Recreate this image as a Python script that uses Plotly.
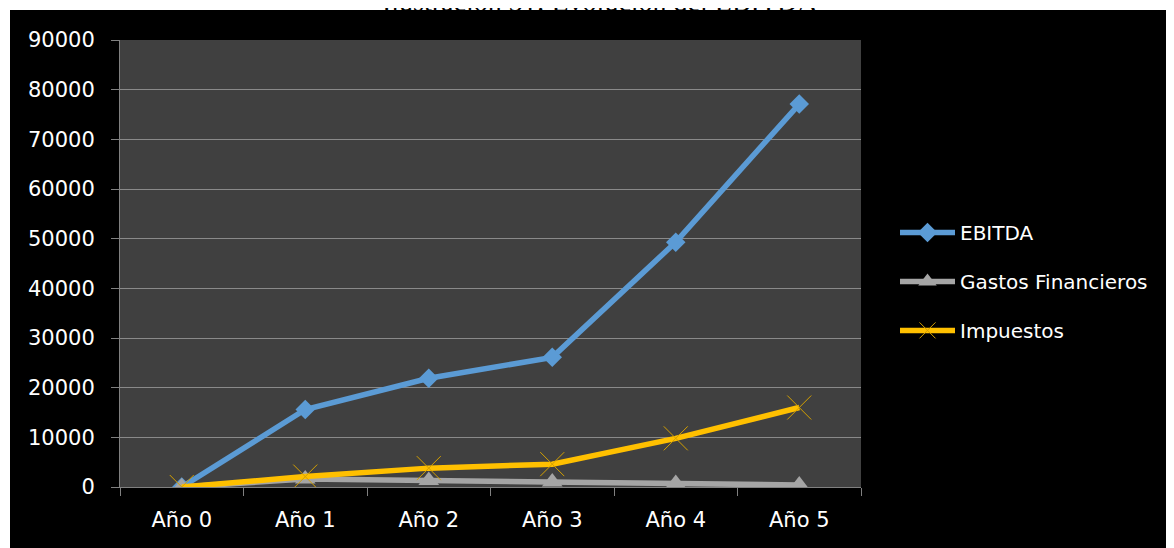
import plotly.graph_objects as go

# data
years = ["Año 0", "Año 1", "Año 2", "Año 3", "Año 4", "Año 5"]
ebitda = [0, 15600, 21900, 26100, 49300, 77100]
gastos_financieros = [0, 1600, 1300, 1000, 700, 400]
impuestos = [0, 2100, 3800, 4600, 9800, 16000]

y_ticks = [0, 10000, 20000, 30000, 40000, 50000, 60000, 70000, 80000, 90000]

# page body adds an 8px offset, so everything is placed 8px up/left
OFF = 8
W, H = 1174, 548
L, T = 120 - OFF, 40 - OFF
pw, ph = 741, 447
R = W - L - pw
B = H - T - ph

font_name = "DejaVu Sans, Verdana, sans-serif"

fig = go.Figure()

fig.add_trace(
    go.Scatter(
        x=years,
        y=ebitda,
        name="EBITDA",
        mode="lines+markers",
        line=dict(color="#5B9BD5", width=5.5),
        marker=dict(symbol="diamond", size=15, color="#5B9BD5"),
        legendgroup="a",
    )
)
fig.add_trace(
    go.Scatter(
        x=years,
        y=gastos_financieros,
        name="Gastos Financieros",
        mode="lines+markers",
        line=dict(color="#A5A5A5", width=5.5),
        marker=dict(symbol="triangle-up", size=18, color="#A5A5A5"),
        legendgroup="b",
    )
)
fig.add_trace(
    go.Scatter(
        x=years,
        y=impuestos,
        name="Impuestos",
        mode="lines+markers",
        line=dict(color="#FFC000", width=5.5),
        marker=dict(
            symbol="x-thin", size=24, color="#FFC000",
            line=dict(color="#D4A000", width=1),
        ),
        legendgroup="c",
    )
)

# black chart background and dark plot area
fig.add_shape(
    type="rect", xref="paper", yref="paper", layer="below",
    x0=(10 - OFF - L) / pw, x1=(W + 20 - L) / pw,
    y0=-(B + 20) / ph, y1=1 + (T - (10 - OFF)) / ph,
    fillcolor="black", line_width=0,
)
fig.add_shape(
    type="rect", xref="paper", yref="paper", layer="below",
    x0=0, x1=1, y0=0, y1=1,
    fillcolor="#404040", line_width=0,
)

# caption cut off at the top
fig.add_annotation(
    text="Ilustración 31: Evolución del EBITDA",
    xref="paper", yref="paper",
    x=(600 - 120) / pw, y=1 + (T + 6.5) / ph,
    xanchor="center", yanchor="middle",
    showarrow=False,
    font=dict(family="Liberation Serif, Times New Roman, serif", size=28, color="black"),
)

fig.update_layout(
    width=W,
    height=H,
    margin=dict(l=L, r=R, t=T, b=B, pad=0),
    paper_bgcolor="white",
    plot_bgcolor="#404040",
    font=dict(family=font_name, size=21, color="white"),
    showlegend=True,
    legend=dict(
        x=(895 - 120) / pw,
        y=0.46,
        xanchor="left",
        yanchor="middle",
        bgcolor="rgba(0,0,0,0)",
        font=dict(family=font_name, size=20, color="white"),
        tracegroupgap=20,
        itemwidth=55,
    ),
    xaxis=dict(
        range=[-0.5, 5.5],
        showgrid=False,
        showline=True,
        linecolor="#808080",
        linewidth=1,
        ticks="outside",
        tickson="boundaries",
        ticklen=8,
        tickcolor="#808080",
        ticklabelstandoff=14,
        tickfont=dict(size=21, color="white"),
        zeroline=False,
    ),
    yaxis=dict(
        range=[0, 90000],
        tickvals=y_ticks,
        tickformat="d",
        showgrid=True,
        gridcolor="#8a8a8a",
        gridwidth=1,
        showline=True,
        linecolor="#808080",
        ticks="outside",
        ticklen=8,
        tickcolor="#808080",
        ticklabelstandoff=12,
        tickfont=dict(size=21, color="white"),
        zeroline=False,
    ),
)

fig.write_html("out.html")
